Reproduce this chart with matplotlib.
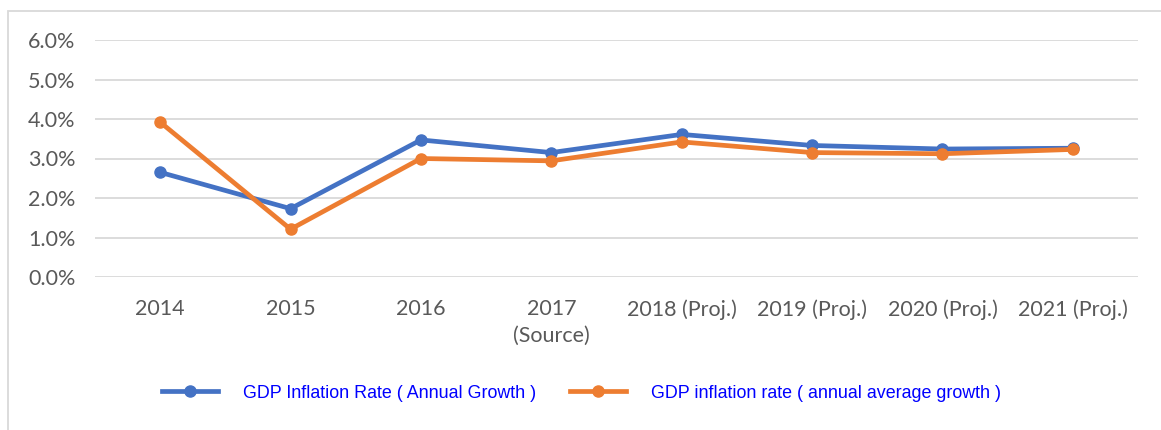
import matplotlib.pyplot as plt
from matplotlib.patches import Rectangle
from matplotlib.ticker import PercentFormatter

# Data (percent)
years = ["2014", "2015", "2016", "2017\n(Source)", "2018 (Proj.)",
         "2019 (Proj.)", "2020 (Proj.)", "2021 (Proj.)"]
gdp_inflation = [2.65, 1.73, 3.47, 3.15, 3.61, 3.33, 3.24, 3.26]
gdp_inflation_avg = [3.92, 1.21, 3.00, 2.94, 3.42, 3.15, 3.12, 3.23]

blue = "#4472C4"
orange = "#ED7D31"
grid_col = "#D9D9D9"
text_col = "#595959"

fig = plt.figure(figsize=(11.61, 4.30), dpi=100)
ax = fig.add_axes([95 / 1161, 1 - 277 / 430, (1138 - 95) / 1161, (277 - 40) / 430])

x = list(range(len(years)))
ax.plot(x, gdp_inflation, color=blue, lw=3.4, marker="o", ms=8,
        label="GDP Inflation Rate ( Annual Growth )", zorder=3)
ax.plot(x, gdp_inflation_avg, color=orange, lw=3.4, marker="o", ms=8,
        label="GDP inflation rate ( annual average growth )", zorder=4)

ax.set_xlim(-0.5, len(years) - 0.5)
ax.set_ylim(0, 6)
ax.set_yticks([0, 1, 2, 3, 4, 5, 6])
ax.yaxis.set_major_formatter(PercentFormatter(decimals=1))
ax.set_xticks(x)
ax.set_xticklabels(years, linespacing=1.4)
ax.tick_params(length=0, labelsize=15.5, labelcolor=text_col)
ax.tick_params(axis="y", pad=14)
ax.tick_params(axis="x", pad=16)
for lbl in ax.get_xticklabels() + ax.get_yticklabels():
    lbl.set_family("Lato")

ax.grid(axis="y", color=grid_col, lw=1.3)
ax.set_axisbelow(True)
for s in ax.spines.values():
    s.set_visible(False)

leg = fig.legend(loc="center", bbox_to_anchor=(0.501, 1 - 393 / 430), ncol=2,
                 frameon=False, handlelength=3.1, handletextpad=1.4, columnspacing=1.9,
                 prop={"family": "Liberation Sans", "size": 12.9})
for t in leg.get_texts():
    t.set_color("#0000FF")

# light chart frame
fig.add_artist(Rectangle((8 / 1161, -0.2), 1.2, 1.2 - 11 / 430, transform=fig.transFigure,
                         fill=False, edgecolor=grid_col, lw=1.3))

fig.savefig("out.png", dpi=100)
